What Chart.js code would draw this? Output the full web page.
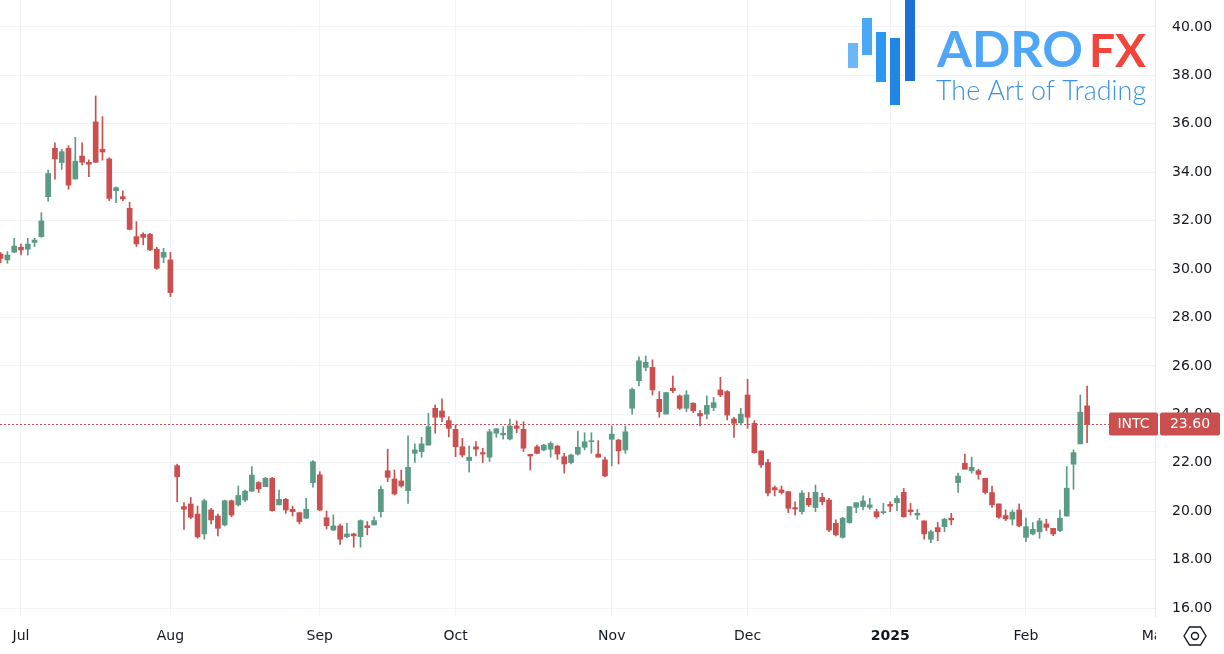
<!DOCTYPE html>
<html><head><meta charset="utf-8">
<script src="https://cdn.jsdelivr.net/npm/chart.js@4.4.1/dist/chart.umd.min.js"></script>
<style>html,body{margin:0;padding:0;background:#fff;overflow:hidden}#wrap{position:relative;width:1224px;height:654px}</style>
</head><body><div id="wrap"><canvas id="c" width="1224" height="654"></canvas></div>
<script>
// ---- data (INTC daily candles) ----
const dates = [
"2024-06-26","2024-06-27","2024-06-28",
"2024-07-01","2024-07-02","2024-07-03","2024-07-05","2024-07-08","2024-07-09","2024-07-10","2024-07-11","2024-07-12","2024-07-15","2024-07-16","2024-07-17","2024-07-18","2024-07-19","2024-07-22","2024-07-23","2024-07-24","2024-07-25","2024-07-26","2024-07-29","2024-07-30","2024-07-31",
"2024-08-01","2024-08-02","2024-08-05","2024-08-06","2024-08-07","2024-08-08","2024-08-09","2024-08-12","2024-08-13","2024-08-14","2024-08-15","2024-08-16","2024-08-19","2024-08-20","2024-08-21","2024-08-22","2024-08-23","2024-08-26","2024-08-27","2024-08-28","2024-08-29","2024-08-30",
"2024-09-03","2024-09-04","2024-09-05","2024-09-06","2024-09-09","2024-09-10","2024-09-11","2024-09-12","2024-09-13","2024-09-16","2024-09-17","2024-09-18","2024-09-19","2024-09-20","2024-09-23","2024-09-24","2024-09-25","2024-09-26","2024-09-27","2024-09-30",
"2024-10-01","2024-10-02","2024-10-03","2024-10-04","2024-10-07","2024-10-08","2024-10-09","2024-10-10","2024-10-11","2024-10-14","2024-10-15","2024-10-16","2024-10-17","2024-10-18","2024-10-21","2024-10-22","2024-10-23","2024-10-24","2024-10-25","2024-10-28","2024-10-29","2024-10-30","2024-10-31",
"2024-11-01","2024-11-04","2024-11-05","2024-11-06","2024-11-07","2024-11-08","2024-11-11","2024-11-12","2024-11-13","2024-11-14","2024-11-15","2024-11-18","2024-11-19","2024-11-20","2024-11-21","2024-11-22","2024-11-25","2024-11-26","2024-11-27","2024-11-29",
"2024-12-02","2024-12-03","2024-12-04","2024-12-05","2024-12-06","2024-12-09","2024-12-10","2024-12-11","2024-12-12","2024-12-13","2024-12-16","2024-12-17","2024-12-18","2024-12-19","2024-12-20","2024-12-23","2024-12-24","2024-12-26","2024-12-27","2024-12-30","2024-12-31",
"2025-01-02","2025-01-03","2025-01-06","2025-01-07","2025-01-08","2025-01-10","2025-01-13","2025-01-14","2025-01-15","2025-01-16","2025-01-17","2025-01-21","2025-01-22","2025-01-23","2025-01-24","2025-01-27","2025-01-28","2025-01-29","2025-01-30","2025-01-31",
"2025-02-03","2025-02-04","2025-02-05","2025-02-06","2025-02-07","2025-02-10","2025-02-11","2025-02-12","2025-02-13","2025-02-14",
"2025-02-18","2025-02-19","2025-02-20","2025-02-21","2025-02-24","2025-02-25","2025-02-26","2025-02-27","2025-02-28","2025-03-03"
];
const openP = [
30.62,30.38,30.70,
30.90,30.82,31.10,31.34,32.99,34.99,34.40,34.99,33.72,34.67,34.41,36.08,34.95,34.55,33.24,32.99,32.51,31.34,31.44,31.44,30.82,30.49,
30.38,21.88,20.19,20.30,19.88,19.06,20.05,19.80,19.43,20.43,20.26,20.46,20.83,21.18,21.01,21.36,20.26,20.49,20.08,19.94,19.71,21.18,
21.50,19.73,19.22,19.39,18.94,19.06,18.95,19.40,19.43,19.98,21.67,21.33,21.25,20.85,22.39,22.46,22.73,24.25,24.14,23.74,
23.38,22.66,22.09,22.66,22.42,22.23,23.22,23.15,22.98,23.52,23.38,22.35,22.66,22.53,22.56,22.69,22.25,22.01,22.36,22.64,22.87,22.36,22.12,
22.97,22.94,22.53,24.25,25.39,25.94,25.94,24.62,24.01,25.08,24.76,24.25,24.46,24.04,24.01,24.28,25.01,24.94,23.81,23.65,
24.80,23.63,22.49,22.01,20.97,20.88,20.81,20.15,19.98,20.53,20.15,20.57,20.46,19.50,18.92,19.53,20.16,20.19,20.16,19.98,19.94,
20.28,20.35,20.78,20.05,19.84,19.60,18.84,19.32,19.36,19.71,21.18,21.98,21.67,21.67,21.36,20.77,20.30,19.82,19.67,20.05,
18.92,19.06,19.15,19.47,19.29,19.20,19.80,21.94,22.78,24.35
];
const highP = [
30.68,30.72,31.27,
31.03,31.27,31.27,32.33,34.09,35.22,34.95,35.10,35.44,35.22,34.51,37.15,36.30,34.60,33.40,33.23,32.76,31.96,31.50,31.48,30.90,30.86,
30.69,21.95,20.35,20.57,20.21,20.50,20.12,19.88,20.46,20.46,21.04,20.87,21.84,21.22,21.40,21.40,20.87,20.53,20.21,19.94,20.53,22.09,
21.63,20.01,19.84,19.47,19.50,19.09,19.64,19.57,19.77,21.04,22.56,21.70,21.70,23.11,22.78,23.05,24.04,24.39,24.64,23.90,
23.56,23.01,22.69,22.87,22.60,23.38,23.42,23.49,23.80,23.73,23.70,22.35,22.73,22.76,22.87,22.73,22.39,22.36,23.31,23.24,23.24,22.91,22.23,
23.52,22.97,23.52,25.08,26.38,26.41,26.25,24.94,24.90,25.58,24.80,24.98,24.48,24.17,24.76,24.70,25.53,24.98,23.88,24.25,
25.45,23.74,22.49,22.14,21.04,21.04,20.81,20.39,20.85,20.77,21.08,20.74,20.53,19.64,19.75,20.19,20.35,20.63,20.53,20.08,20.32,
20.39,20.63,20.94,20.32,20.08,19.60,19.22,19.53,19.71,19.91,21.57,22.36,22.23,21.73,21.36,21.04,20.30,20.05,20.05,20.30,
19.71,19.53,19.71,19.67,19.29,20.05,21.84,22.53,24.80,25.17
];
const lowP = [
30.26,30.24,30.68,
30.58,30.58,30.93,31.31,32.81,33.71,34.12,33.30,33.72,34.30,33.82,34.40,34.50,32.83,32.74,32.83,31.62,30.93,31.00,30.76,29.99,30.26,
28.86,20.39,19.25,19.69,18.88,18.84,19.47,18.98,19.39,19.77,20.21,20.39,20.81,20.77,21.01,20.00,20.26,19.91,19.80,19.47,19.69,20.99,
20.02,19.26,19.20,18.63,18.91,18.51,18.51,19.02,19.43,19.75,21.22,20.67,20.99,20.32,22.01,22.23,22.73,23.22,23.70,23.07,
22.25,22.23,21.61,22.28,22.01,22.05,23.05,22.97,22.94,23.24,22.46,21.70,22.36,22.49,22.23,22.14,21.57,21.95,22.32,22.53,22.39,22.23,21.43,
21.87,21.95,22.39,24.01,25.17,25.80,24.80,23.88,24.01,24.90,24.20,24.11,24.07,23.52,23.81,24.15,24.73,23.77,23.05,23.56,
23.42,22.39,21.81,20.63,20.63,20.71,19.94,19.84,19.88,20.19,19.98,20.26,19.15,18.98,18.88,19.50,19.94,20.05,20.08,19.71,19.88,
19.98,20.02,19.75,19.84,19.66,18.84,18.70,18.78,19.15,19.43,20.77,21.73,21.57,21.32,20.71,20.15,19.70,19.61,19.43,19.36,
18.74,19.02,18.88,19.20,18.99,19.15,19.80,20.90,22.78,22.83
];
const closeP = [
30.44,30.58,30.95,
30.79,31.03,31.20,31.99,33.95,34.55,34.85,33.47,34.46,34.41,34.33,34.41,34.84,32.92,33.36,32.90,31.64,31.04,31.31,30.79,30.03,30.69,
29.03,21.42,20.08,19.75,18.94,20.43,19.64,19.29,20.43,19.84,20.65,20.83,21.49,20.92,21.36,20.02,20.49,20.05,19.98,19.57,20.08,22.04,
20.05,19.40,19.39,18.84,19.06,18.98,19.61,19.32,19.61,20.90,21.40,20.71,21.04,21.81,22.53,22.78,23.49,23.88,23.88,23.42,
22.66,22.32,22.23,22.56,22.36,23.28,23.40,23.22,23.52,23.42,22.60,22.28,22.39,22.73,22.80,22.36,21.95,22.32,22.64,22.87,22.91,22.23,21.45,
23.18,22.49,23.28,25.03,26.21,26.15,25.01,24.11,24.90,24.98,24.25,24.80,24.15,23.93,24.37,24.48,24.80,23.97,23.63,24.01,
23.88,22.42,21.91,20.75,20.88,20.77,20.12,20.09,20.75,20.26,20.78,20.39,19.22,19.02,19.71,20.19,20.35,20.42,20.26,19.77,19.98,
20.21,20.53,19.77,19.98,19.91,19.06,19.15,19.15,19.67,19.64,21.45,21.73,21.81,21.52,20.77,20.26,19.75,19.68,19.96,19.39,
19.36,19.25,19.60,19.33,19.06,19.71,20.95,22.42,24.09,23.60
];
const yTicks = [16,18,20,22,24,26,28,30,32,34,36,38,40];
const xTickDates  = ["2024-07-01","2024-08-01","2024-09-03","2024-10-01","2024-11-01","2024-12-02","2025-01-02","2025-02-03","2025-03-03"];
const xTickLabels = ["Jul","Aug","Sep","Oct","Nov","Dec","2025","Feb","Mar"];
const symbol = "INTC";
const lastPrice = 23.60;

// ---- styling ----
const UP = '#5b9b86', DOWN = '#cc4f4f';
const FONT = "'DejaVu Sans', sans-serif";
const colors = closeP.map((c,i)=> c >= openP[i] ? UP : DOWN);
const xTickIdx = xTickDates.map(d => dates.indexOf(d));

const overlay = {
  id:'overlay',
  beforeDatasetsDraw(chart){
    const ctx = chart.ctx, ys = chart.scales.y, area = chart.chartArea;
    ctx.save();
    const bars = [[848,43,10,25,'#6cb8f6'],[862,18,10,37,'#4aa9f5'],[876,32,10,50,'#2a97f0'],[890,38,10,67,'#1f86e2'],[905,0,10,81,'#1c72d4']];
    bars.forEach(b=>{ctx.fillStyle=b[4];ctx.fillRect(b[0],b[1],b[2],b[3]);});
    ctx.textBaseline='alphabetic'; ctx.textAlign='left';
    ctx.font = "bold 50px Lato, 'Open Sans', sans-serif";
    let w = ctx.measureText('ADRO').width; let fs = 50*146/w;
    ctx.font = "bold "+fs.toFixed(1)+"px Lato, 'Open Sans', sans-serif";
    ctx.fillStyle = '#4fa6f6'; ctx.fillText('ADRO', 937, 67);
    ctx.font = "bold 50px Lato, 'Open Sans', sans-serif";
    w = ctx.measureText('FX').width; fs = 50*57/w;
    ctx.font = "bold "+fs.toFixed(1)+"px Lato, 'Open Sans', sans-serif";
    ctx.fillStyle = '#f2443a'; ctx.fillText('FX', 1089, 67);
    ctx.font = "300 24px Lato, 'Open Sans', sans-serif";
    w = ctx.measureText('The Art of Trading').width; fs = 24*210/w;
    ctx.font = "300 "+fs.toFixed(1)+"px Lato, 'Open Sans', sans-serif";
    ctx.fillStyle = '#3d92e6'; ctx.fillText('The Art of Trading', 936, 100);
    const y = Math.round(ys.getPixelForValue(lastPrice)) + 0.5;
    ctx.strokeStyle = DOWN; ctx.lineWidth = 1; ctx.setLineDash([2,2]);
    ctx.beginPath(); ctx.moveTo(area.left, y); ctx.lineTo(area.right, y); ctx.stroke();
    ctx.restore();
  },
  afterDraw(chart){
    const ctx = chart.ctx, ys = chart.scales.y, area = chart.chartArea;
    ctx.save();
    ctx.fillStyle = '#fff'; ctx.fillRect(area.right + 1, area.bottom + 4, 1224 - area.right, 654 - area.bottom);
    const y = ys.getPixelForValue(lastPrice);
    const rr = (x,yy,w,h,r)=>{ctx.beginPath();ctx.moveTo(x+r,yy);ctx.lineTo(x+w-r,yy);ctx.quadraticCurveTo(x+w,yy,x+w,yy+r);ctx.lineTo(x+w,yy+h-r);ctx.quadraticCurveTo(x+w,yy+h,x+w-r,yy+h);ctx.lineTo(x+r,yy+h);ctx.quadraticCurveTo(x,yy+h,x,yy+h-r);ctx.lineTo(x,yy+r);ctx.quadraticCurveTo(x,yy,x+r,yy);ctx.closePath();ctx.fill();};
    ctx.fillStyle = DOWN;
    rr(1109, y-11.5, 49, 23, 2);
    rr(1160, y-11.5, 60, 23, 2);
    ctx.fillStyle = '#fff'; ctx.font = "14px " + FONT; ctx.textAlign='center'; ctx.textBaseline='middle';
    ctx.fillText(symbol, 1133.5, y+0.5);
    ctx.fillText(lastPrice.toFixed(2), 1190, y+0.5);
    const cx = 1195, cy = 636;
    ctx.strokeStyle = '#131722'; ctx.lineWidth = 1.4;
    ctx.beginPath();
    ctx.moveTo(cx-11,cy); ctx.lineTo(cx-5.5,cy-9); ctx.lineTo(cx+5.5,cy-9); ctx.lineTo(cx+11,cy); ctx.lineTo(cx+5.5,cy+9); ctx.lineTo(cx-5.5,cy+9); ctx.closePath(); ctx.stroke();
    ctx.beginPath(); ctx.arc(cx,cy,3.5,0,Math.PI*2); ctx.stroke();
    ctx.restore();
  }
};

Chart.defaults.font.family = FONT;
new Chart(document.getElementById('c'), {
  type:'bar',
  data:{ datasets:[
    { label:'body', data: openP.map((o,i)=>({x:i, y:[o, closeP[i]]})), backgroundColor: colors, barThickness:5, minBarLength:1, grouped:false },
    { label:'wick', data: lowP.map((l,i)=>({x:i, y:[l, highP[i]]})), backgroundColor: colors, barThickness:1, grouped:false }
  ]},
  plugins:[overlay],
  options:{
    responsive:false, animation:false, devicePixelRatio:1,
    layout:{padding:0},
    plugins:{legend:{display:false}, tooltip:{enabled:false}},
    scales:{
      x:{ type:'linear', position:'bottom', min:-0.09, max:170, offset:false,
        afterBuildTicks: s => { s.ticks = xTickIdx.map(v=>({value:v})); },
        afterFit: s => { s.height = 38; s.paddingLeft = 0; s.paddingRight = 0; },
        ticks:{ autoSkip:false, maxRotation:0, padding:12, color:'#131722',
          callback: v => xTickLabels[xTickIdx.indexOf(v)],
          font: c => ({family:FONT, size:14, weight: c.index===6 ? 'bold' : 'normal'}) },
        grid:{ color:'#f0f3fa', drawTicks:false, offset:false }, border:{display:false} },
      y:{ type:'linear', position:'right', min:15.67, max:41.115,
        afterBuildTicks: s => { s.ticks = yTicks.map(v=>({value:v})); },
        afterFit: s => { s.width = 69; s.paddingTop = 0; s.paddingBottom = 0; },
        ticks:{ padding:17, color:'#131722', font:{family:FONT, size:14}, callback: v => Number(v).toFixed(2) },
        grid:{ color:'#f0f3fa', drawTicks:false }, border:{display:true, color:'#e6e9ef'} }
    }
  }
});
</script></body></html>
